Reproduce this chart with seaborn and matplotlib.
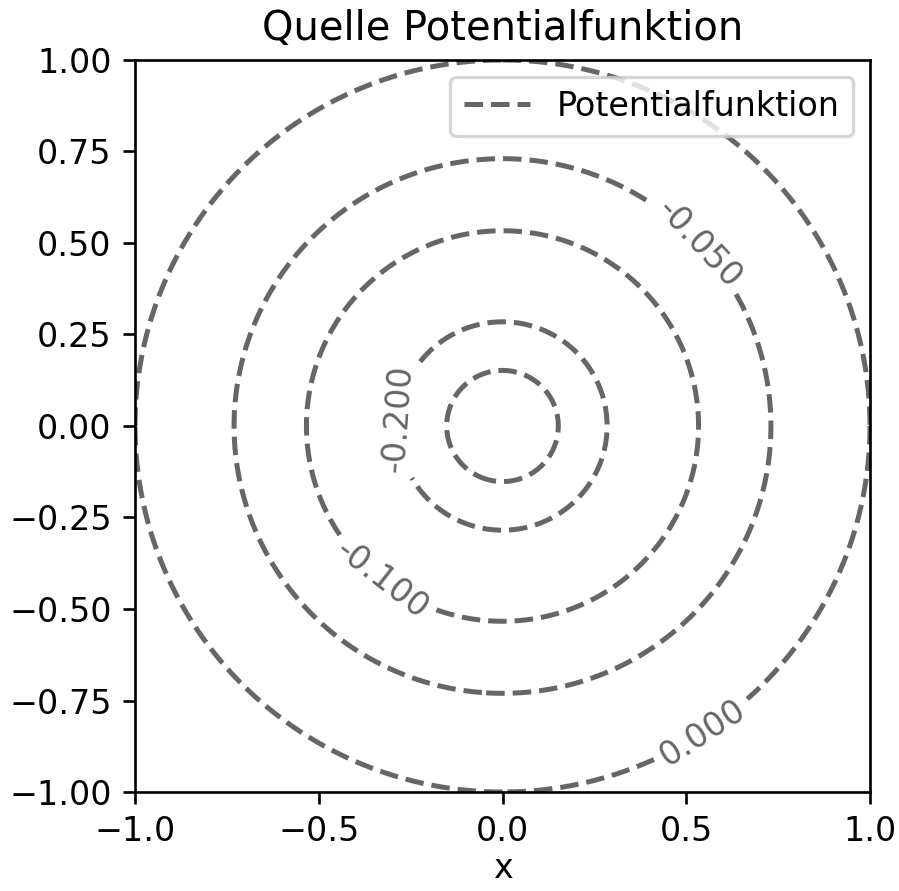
import numpy as np
import matplotlib
matplotlib.use("Agg")
import matplotlib.pyplot as plt
import seaborn as sns

# Data
title = "Quelle Potentialfunktion"
levels = [-0.3, -0.2, -0.1, -0.05, 0.0]
label_positions = [(-0.28, 0.02), (-0.32, -0.41), (0.54, 0.50), (0.54, -0.83)]
strength = 1.0  # source strength Q

x = np.linspace(-1, 1, 501)
y = np.linspace(-1, 1, 501)
X, Y = np.meshgrid(x, y)
R = np.sqrt(X**2 + Y**2)
R[R == 0] = 1e-9
PHI = strength / (2 * np.pi) * np.log(R)

DPI = 240
fig = plt.figure(figsize=(899 / DPI, 891 / DPI), dpi=DPI)
ax = fig.add_axes([135 / 899, 1 - 792 / 891, 735 / 899, 732 / 891])

col = "#666666"
cs = ax.contour(X, Y, PHI, levels=levels, colors=col, linestyles="--", linewidths=1.5)
ax.clabel(cs, inline=True, inline_spacing=8, fmt="%.3f", fontsize=10,
          manual=label_positions)

sns.lineplot(x=[np.nan, np.nan], y=[np.nan, np.nan], ax=ax, color=col,
             linestyle="--", linewidth=1.5, label="Potentialfunktion")
ax.legend(loc="upper right", fontsize=10)

ax.set_xlim(-1, 1)
ax.set_ylim(-1, 1)
ax.set_xticks([-1.0, -0.5, 0.0, 0.5, 1.0])
ax.set_yticks([-1.0, -0.75, -0.5, -0.25, 0.0, 0.25, 0.5, 0.75, 1.0])
ax.set_xlabel("x", fontsize=10, labelpad=1)
ax.set_title(title, fontsize=12)
ax.tick_params(labelsize=10)

fig.savefig("out.png", dpi=DPI)
